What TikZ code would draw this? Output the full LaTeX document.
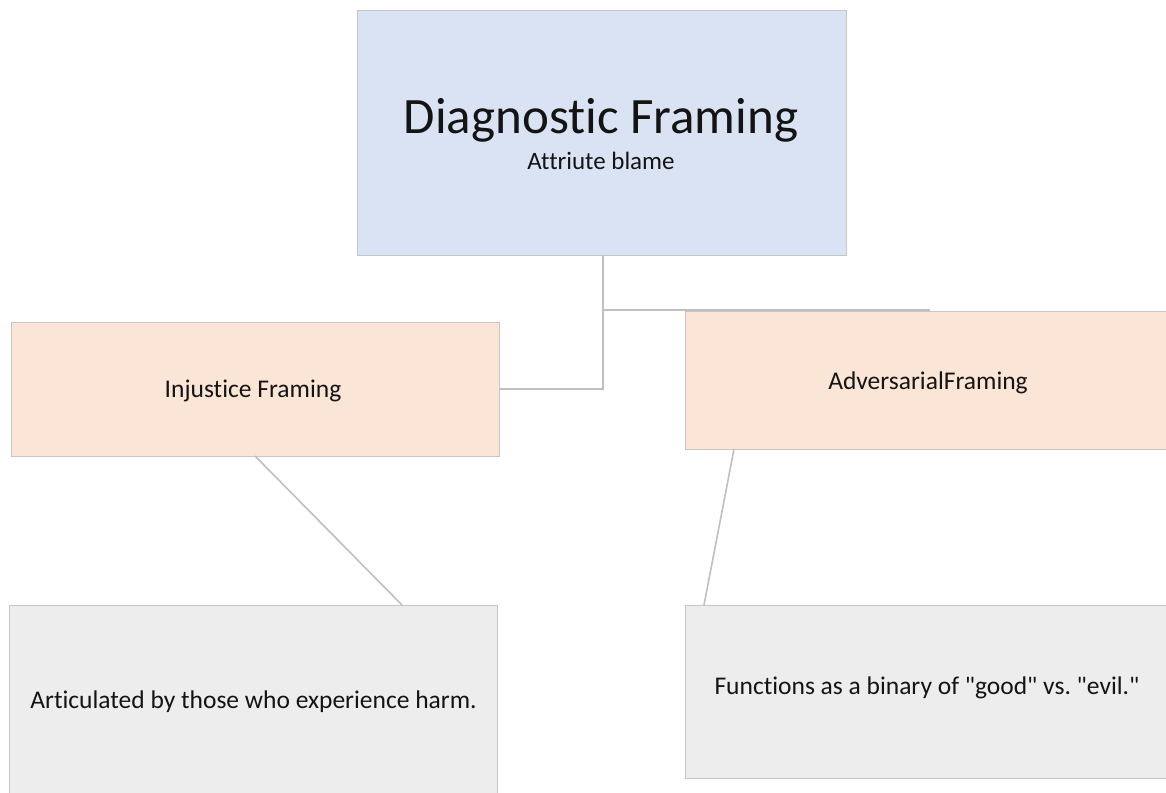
\documentclass[tikz,border=0pt]{standalone}
\usepackage{fontspec}
\setmainfont[Ligatures={TeX,NoCommon}]{Carlito}
\frenchspacing
\definecolor{topfill}{HTML}{DAE3F3}
\definecolor{midfill}{HTML}{FBE5D6}
\definecolor{lowfill}{HTML}{EDEDED}
\definecolor{boxline}{HTML}{C6C6C6}
\definecolor{linkline}{HTML}{C0C0C0}
\tikzset{
  box/.style={draw=boxline, line width=0.9pt, rectangle, inner sep=0pt, outer sep=0pt},
  topbox/.style={box, fill=topfill},
  midbox/.style={box, fill=midfill},
  lowbox/.style={box, fill=lowfill},
  link/.style={draw=linkline, line width=2pt},
  lbl/.style={anchor=base, inner sep=0pt, text=black!92},
}
\begin{document}
\begin{tikzpicture}[x=1pt, y=-1pt]
\useasboundingbox (0,0) rectangle (1166,792);
\clip (0,0) rectangle (1166,792);
\fill[white] (0,0) rectangle (1166,792);

% boxes
\node[topbox, minimum width=489pt, minimum height=245pt] (diag) at (601.5,132.5) {};
\node[midbox, minimum width=488pt, minimum height=134pt] (inj) at (255,389) {};
\node[midbox, minimum width=485pt, minimum height=138pt] (adv) at (927.5,380) {};
\node[lowbox, minimum width=488pt, minimum height=190pt] (art) at (253,700) {};
\node[lowbox, minimum width=485pt, minimum height=173pt] (fun) at (927.5,691.5) {};

% connectors
\coordinate (elbow) at (603,389);
\coordinate (branch) at (603,310);
\coordinate (branchend) at (930,310);
\draw[link] (diag.south -| elbow) -- (elbow) -- (inj.east);
\draw[link] (branch) -- (branchend);
\coordinate (injout) at (255,456);
\coordinate (artin) at (402,605);
\draw[link, line width=1.6pt] (injout) -- (artin);
\coordinate (advout) at (734,449);
\coordinate (funin) at (704,605);
\draw[link, line width=1.6pt] (advout) -- (funin);

% labels
\node[lbl, font=\fontsize{51}{56}\selectfont] (diagt) at (601,133) {Diagnostic Framing};
\node[lbl, font=\fontsize{25}{30}\selectfont] (diags) at (601,169) {Attriute blame};
\node[lbl, font=\fontsize{25.5}{30}\selectfont] (injt) at (253,397) {Injustice Framing};
\node[lbl, font=\fontsize{25.5}{30}\selectfont] (advt) at (928,389) {AdversarialFraming};
\node[lbl, font=\fontsize{25.5}{30}\selectfont] (artt) at (253.5,708) {Articulated by those who experience harm.};
\node[lbl, font=\fontsize{25.5}{30}\selectfont] (funt) at (927,694) {Functions as a binary of \textquotedbl good\textquotedbl{} vs. \textquotedbl evil.\textquotedbl};
\end{tikzpicture}
\end{document}
